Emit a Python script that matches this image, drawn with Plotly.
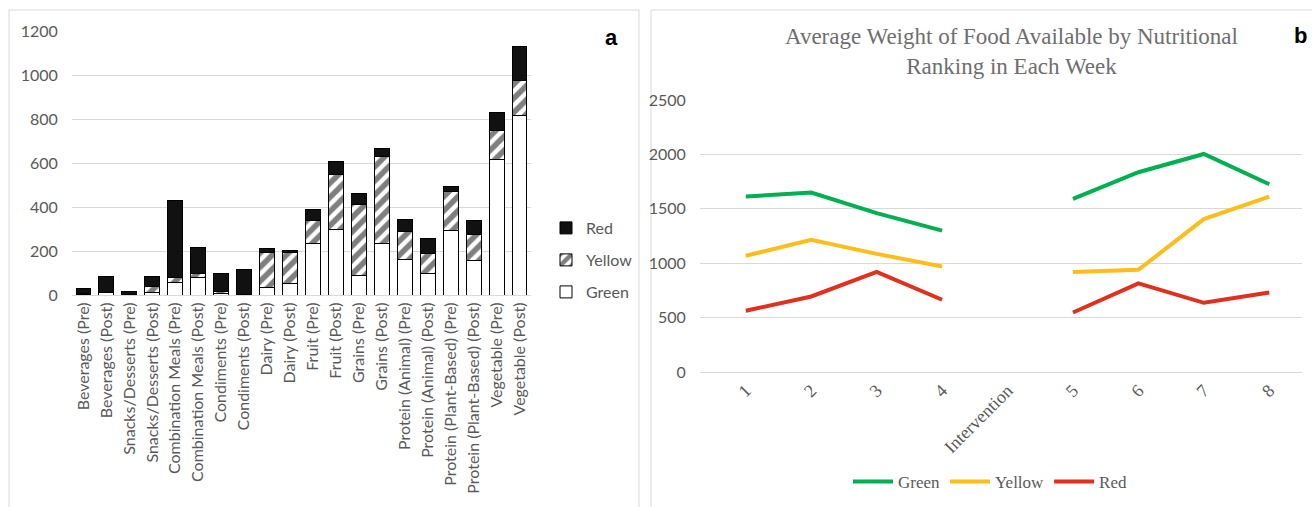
import plotly.graph_objects as go

# ---------------- Panel a data ----------------
categories_a = [
    "Beverages (Pre)", "Beverages (Post)", "Snacks/Desserts (Pre)", "Snacks/Desserts (Post)",
    "Combination Meals (Pre)", "Combination Meals (Post)", "Condiments (Pre)", "Condiments (Post)",
    "Dairy (Pre)", "Dairy (Post)", "Fruit (Pre)", "Fruit (Post)", "Grains (Pre)", "Grains (Post)",
    "Protein (Animal) (Pre)", "Protein (Animal) (Post)", "Protein (Plant-Based) (Pre)",
    "Protein (Plant-Based) (Post)", "Vegetable (Pre)", "Vegetable (Post)",
]
green_a = [3, 10, 2, 12, 58, 80, 8, 1, 36, 54, 232, 300, 88, 233, 160, 100, 293, 155, 617, 818]
yellow_a = [2, 3, 2, 27, 22, 20, 10, 1, 155, 140, 107, 246, 322, 397, 129, 88, 177, 120, 129, 159]
red_a = [26, 70, 12, 47, 348, 118, 82, 116, 22, 8, 51, 59, 51, 36, 53, 69, 23, 62, 85, 152]
yticks_a = [0, 200, 400, 600, 800, 1000, 1200]

# ---------------- Panel b data ----------------
weeks_b = ["1", "2", "3", "4", "Intervention", "5", "6", "7", "8"]
green_b = [1612, 1649, 1460, 1300, None, 1591, 1836, 2004, 1726]
yellow_b = [1068, 1215, 1086, 969, None, 918, 939, 1405, 1612]
red_b = [563, 694, 921, 664, None, 547, 814, 636, 731]
yticks_b = [0, 500, 1000, 1500, 2000, 2500]
title_b = "Average Weight of Food Available by Nutritional<br>Ranking in Each Week"

W, H = 1312, 507
def px(x):
    return x / W
def py(y):
    return 1 - y / H

GRAY = "#595959"
GRID = "#d9d9d9"
SANS = "Lato, 'Open Sans', sans-serif"
SERIF = "'Liberation Serif', 'Times New Roman', serif"

fig = go.Figure()

# stacked bars
fig.add_trace(go.Bar(
    x=categories_a, y=green_a, name="Green", xaxis="x", yaxis="y",
    marker=dict(color="white", line=dict(color="black", width=1)),
    legend="legend3",
))
fig.add_trace(go.Bar(
    x=categories_a, y=yellow_a, name="Yellow", xaxis="x", yaxis="y",
    marker=dict(color="white", line=dict(color="black", width=1),
                pattern=dict(shape="/", fgcolor="black", bgcolor="white", size=10, solidity=0.55)),
    legend="legend2",
))
fig.add_trace(go.Bar(
    x=categories_a, y=red_a, name="Red", xaxis="x", yaxis="y",
    marker=dict(color="#111111", line=dict(color="black", width=1)),
    legend="legend",
))

# lines
for name, vals, col in [("Green", green_b, "#00B050"), ("Yellow", yellow_b, "#FDBE1C"), ("Red", red_b, "#E0301E")]:
    fig.add_trace(go.Scatter(
        x=weeks_b, y=vals, name=name, mode="lines", xaxis="x2", yaxis="y2",
        line=dict(color=col, width=4), connectgaps=False, legend="legend4",
    ))

leg_common = dict(font=dict(family=SANS, size=16, color=GRAY), bgcolor="rgba(0,0,0,0)",
                  xanchor="left", yanchor="middle", itemwidth=30)

fig.update_layout(
    width=W, height=H,
    margin=dict(l=0, r=0, t=0, b=0, autoexpand=False),
    paper_bgcolor="white", plot_bgcolor="white",
    barmode="stack", bargap=0.35,
    showlegend=True,
    xaxis=dict(domain=[px(72), px(531)], type="category", range=[-0.5, 19.5],
               tickangle=-90, tickfont=dict(family=SANS, size=16, color=GRAY),
               showgrid=False, showline=True, linecolor=GRID, ticks="", anchor="y",
               automargin=False),
    yaxis=dict(domain=[py(295), py(31)], range=[0, 1200], tickvals=yticks_a,
               tickfont=dict(family=SANS, size=16, color=GRAY), gridcolor=GRID,
               zeroline=False, showline=False, ticks="outside", ticklen=10, tickcolor="rgba(0,0,0,0)",
               anchor="x", automargin=False),
    xaxis2=dict(domain=[px(700), px(1302)], type="category", range=[-0.7, 8.5],
                tickangle=-45, tickfont=dict(family=SERIF, size=18, color=GRAY),
                showgrid=False, showline=True, linecolor=GRID, ticks="", anchor="y2",
                automargin=False),
    yaxis2=dict(domain=[py(372), py(100)], range=[0, 2500], tickvals=yticks_b,
                tickfont=dict(family=SANS, size=16, color=GRAY), gridcolor=GRID,
                zeroline=False, showline=False, ticks="outside", ticklen=10, tickcolor="rgba(0,0,0,0)",
                anchor="x2", automargin=False),
    legend=dict(x=px(546), y=py(228), **leg_common),
    legend2=dict(x=px(546), y=py(260), **leg_common),
    legend3=dict(x=px(546), y=py(292), **leg_common),
    legend4=dict(x=px(990), y=py(482), xanchor="center", yanchor="middle", orientation="h",
                 font=dict(family=SERIF, size=17, color=GRAY), bgcolor="rgba(0,0,0,0)",
                 itemwidth=40, traceorder="normal"),
    shapes=[
        dict(type="rect", xref="paper", yref="paper", x0=px(9), x1=px(639), y0=py(530), y1=py(10),
             line=dict(color=GRID, width=1), fillcolor="rgba(0,0,0,0)", layer="below"),
        dict(type="rect", xref="paper", yref="paper", x0=px(651), x1=px(1330), y0=py(530), y1=py(10),
             line=dict(color=GRID, width=1), fillcolor="rgba(0,0,0,0)", layer="below"),
    ],
    annotations=[
        dict(text=title_b, xref="paper", yref="paper", x=px(1011), y=py(52), xanchor="center",
             yanchor="middle", showarrow=False, font=dict(family=SERIF, size=23, color="#6e6e6e")),
        dict(text="<b>a</b>", xref="paper", yref="paper", x=px(611), y=py(37), xanchor="center",
             yanchor="middle", showarrow=False, font=dict(family="Liberation Sans, Arial", size=22, color="black")),
        dict(text="<b>b</b>", xref="paper", yref="paper", x=px(1300), y=py(35), xanchor="center",
             yanchor="middle", showarrow=False, font=dict(family="Liberation Sans, Arial", size=22, color="black")),
    ],
)

fig.write_html("out.html", config={"displayModeBar": False},
               post_script="document.body.style.margin='0';document.body.style.overflow='hidden';")
